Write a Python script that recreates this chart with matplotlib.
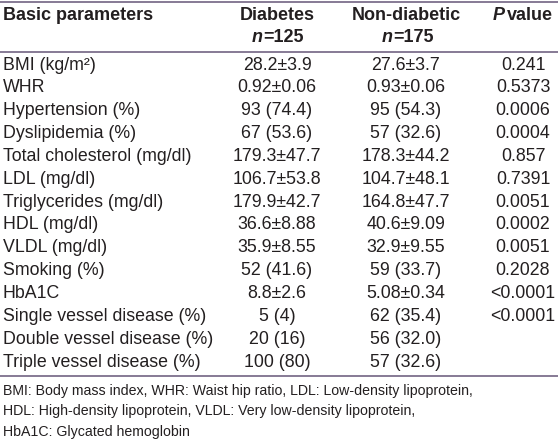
import matplotlib
matplotlib.use("Agg")
import matplotlib.pyplot as plt
from matplotlib import font_manager

# ---- data ----
parameters = ["BMI (kg/m\u00b2)", "WHR", "Hypertension (%)", "Dyslipidemia (%)",
              "Total cholesterol (mg/dl)", "LDL (mg/dl)", "Triglycerides (mg/dl)",
              "HDL (mg/dl)", "VLDL (mg/dl)", "Smoking (%)", "HbA1C",
              "Single vessel disease (%)", "Double vessel disease (%)",
              "Triple vessel disease (%)"]
diabetes = ["28.2\u00b13.9", "0.92\u00b10.06", "93 (74.4)", "67 (53.6)", "179.3\u00b147.7",
            "106.7\u00b153.8", "179.9\u00b142.7", "36.6\u00b18.88", "35.9\u00b18.55",
            "52 (41.6)", "8.8\u00b12.6", "5 (4)", "20 (16)", "100 (80)"]
non_diabetic = ["27.6\u00b13.7", "0.93\u00b10.06", "95 (54.3)", "57 (32.6)", "178.3\u00b144.2",
                "104.7\u00b148.1", "164.8\u00b147.7", "40.6\u00b19.09", "32.9\u00b19.55",
                "59 (33.7)", "5.08\u00b10.34", "62 (35.4)", "56 (32.0)", "57 (32.6)"]
p_values = ["0.241", "0.5373", "0.0006", "0.0004", "0.857", "0.7391", "0.0051",
            "0.0002", "0.0051", "0.2028", "<0.0001", "<0.0001", "", ""]
footnotes = ["BMI: Body mass index, WHR: Waist hip ratio, LDL: Low-density lipoprotein,",
             "HDL: High-density lipoprotein, VLDL: Very low-density lipoprotein,",
             "HbA1C: Glycated hemoglobin"]

names = {f.name for f in font_manager.fontManager.ttflist}
body_font = "Liberation Sans Narrow" if "Liberation Sans Narrow" in names else "Liberation Sans"
head_font = "Liberation Sans"

W, H = 558, 442
fig = plt.figure(figsize=(W / 100, H / 100), dpi=100)
ax = fig.add_axes([0, 0, 1, 1])
ax.set_xlim(0, W)
ax.set_ylim(H, 0)
ax.axis("off")

txt = "#231f20"
rule = "#7d6f8c"
bsize = 12.8
hsize = 13.0

# rules
ax.hlines([1.5, 52, 376], 0, W, color=rule, lw=1.3)

# header
ax.text(3, 16, "Basic parameters", fontfamily=head_font, fontweight="bold",
        fontsize=hsize, color=txt, ha="left", va="center")
ax.text(277, 16, "Diabetes", fontfamily=head_font, fontweight="bold",
        fontsize=hsize, color=txt, ha="center", va="center")
ax.text(406, 16, "Non-diabetic", fontfamily=head_font, fontweight="bold",
        fontsize=hsize, color=txt, ha="center", va="center")
ax.text(493, 16, "P", fontfamily=head_font, fontweight="bold", fontstyle="italic",
        fontsize=hsize, color=txt, ha="left", va="center")
ax.text(507, 16, "value", fontfamily=head_font, fontweight="bold",
        fontsize=hsize, color=txt, ha="left", va="center")
for xl, num in [(252, "125"), (382, "175")]:
    ax.text(xl, 38, "n", fontfamily=head_font, fontweight="bold", fontstyle="italic",
            fontsize=hsize, color=txt, ha="left", va="center")
    ax.text(xl + 11, 38, "=" + num, fontfamily=head_font, fontweight="bold",
            fontsize=hsize, color=txt, ha="left", va="center")

# body rows
y0, dy = 65, 22.85
for i, (p, d, n, pv) in enumerate(zip(parameters, diabetes, non_diabetic, p_values)):
    y = y0 + i * dy
    kw = dict(fontfamily=body_font, fontsize=bsize, color=txt, va="center")
    ax.text(3, y, p, ha="left", **kw)
    ax.text(277, y, d, ha="center", **kw)
    ax.text(406, y, n, ha="center", **kw)
    ax.text(523, y, pv, ha="center", **kw)

# footnotes
for i, line in enumerate(footnotes):
    ax.text(3, 391 + i * 20.5, line, fontfamily=body_font, fontsize=10.2,
            color=txt, ha="left", va="center")

fig.savefig("out.png", dpi=100)
